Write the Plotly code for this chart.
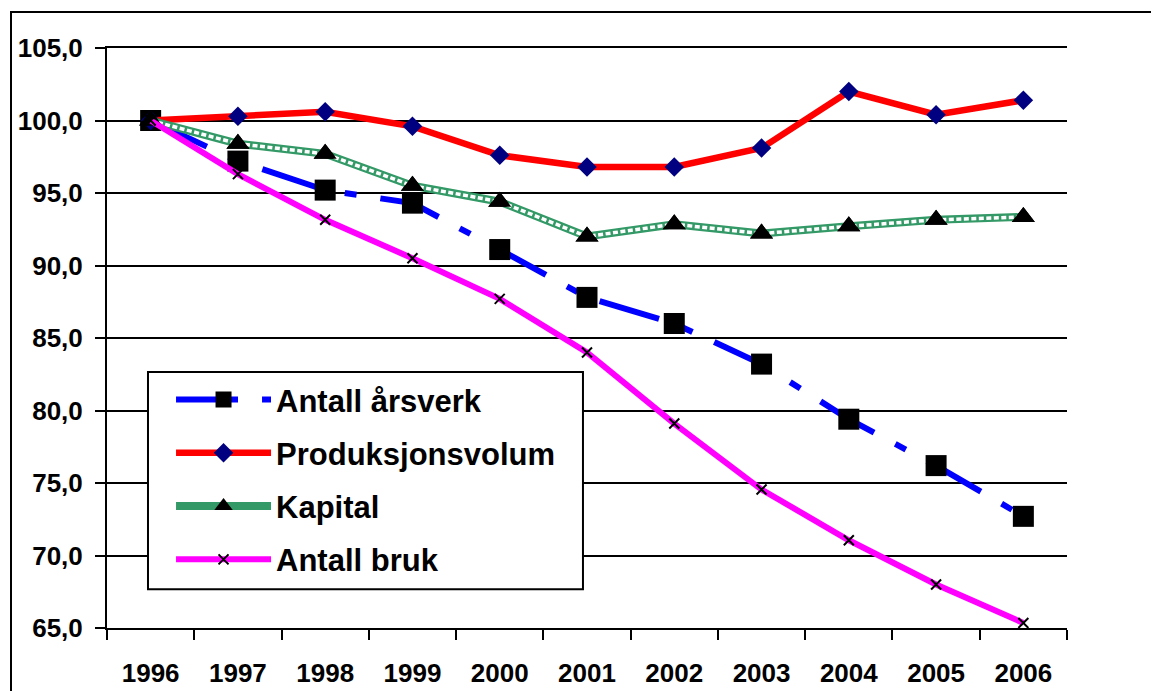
import plotly.graph_objects as go

years = ["1996", "1997", "1998", "1999", "2000", "2001", "2002", "2003", "2004", "2005", "2006"]
arsverk = [100.0, 97.2, 95.2, 94.3, 91.1, 87.8, 86.0, 83.2, 79.4, 76.2, 72.7]
produksjon = [100.0, 100.3, 100.6, 99.6, 97.6, 96.8, 96.8, 98.1, 102.0, 100.4, 101.4]
kapital = [100.0, 98.4, 97.7, 95.5, 94.4, 92.0, 92.85, 92.2, 92.7, 93.15, 93.35]
bruk = [100.0, 96.3, 93.15, 90.5, 87.7, 84.0, 79.1, 74.55, 71.05, 68.0, 65.35]

names = ["Antall årsverk", "Produksjonsvolum", "Kapital", "Antall bruk"]
yticks = [65, 70, 75, 80, 85, 90, 95, 100, 105]

FONT = "Liberation Sans, Arial, sans-serif"

fig = go.Figure()

fig.add_trace(go.Scatter(
    x=years, y=arsverk, name=names[0], mode="lines+markers", legendgroup="a",
    line=dict(color="#0000FF", width=6, dash="62px,24px,12px,24px"),
    marker=dict(symbol="square", size=21, color="black"),
))
fig.add_trace(go.Scatter(
    x=years, y=produksjon, name=names[1], mode="lines+markers", legendgroup="p",
    line=dict(color="#FF0000", width=6.5),
    marker=dict(symbol="diamond", size=15, color="#000080"),
))
fig.add_trace(go.Scatter(
    x=years, y=kapital, name=names[2], mode="lines+markers", legendgroup="k",
    line=dict(color="#339966", width=8),
    marker=dict(symbol="triangle-up", size=20, color="black"),
))
fig.add_trace(go.Scatter(
    x=years, y=kapital, mode="lines", legendgroup="k", showlegend=False,
    line=dict(color="white", width=3.5, dash="5px,2.5px"), hoverinfo="skip",
))
fig.add_trace(go.Scatter(
    x=years, y=kapital, mode="markers", legendgroup="k", showlegend=False,
    marker=dict(symbol="triangle-up", size=20, color="black"), hoverinfo="skip",
))
fig.add_trace(go.Scatter(
    x=years, y=bruk, name=names[3], mode="lines+markers", legendgroup="b",
    line=dict(color="#FF00FF", width=6),
    marker=dict(symbol="x-thin", size=10, color="black", line=dict(color="black", width=2)),
))

tickfont = dict(family=FONT, size=26, color="black", weight="bold")

fig.update_layout(
    width=1151, height=683,
    margin=dict(l=99, r=92, t=40, b=63, autoexpand=False),
    paper_bgcolor="white", plot_bgcolor="white",
    separators=", ",
    showlegend=True,
    legend=dict(
        x=0.0667, y=0.44, xanchor="left", yanchor="top",
        bgcolor="rgba(0,0,0,0)", borderwidth=0,
        font=dict(family=FONT, size=31, color="black", weight="bold"),
        itemwidth=95, tracegroupgap=10, traceorder="grouped",
    ),
    xaxis=dict(
        type="category", range=[-0.5, 10.5], tickson="boundaries", automargin=False,
        ticks="outside", ticklen=10, tickwidth=2, tickcolor="black",
        showline=True, linecolor="black", linewidth=2, mirror=True,
        showgrid=False, zeroline=False, tickfont=tickfont, ticklabelstandoff=21,
    ),
    xaxis2=dict(
        overlaying="x", anchor="y", side="bottom", range=[-0.5, 10.5], automargin=False,
        tickmode="array", tickvals=[i - 0.5 for i in range(12)],
        ticks="inside", ticklen=9, tickwidth=2, tickcolor="black",
        showticklabels=False, showgrid=False, zeroline=False, showline=False,
    ),
    yaxis=dict(
        range=[65, 105], tickmode="array", tickvals=yticks, tickformat=".1f", automargin=False,
        ticks="outside", ticklen=10, tickwidth=2, tickcolor="black",
        showline=True, linecolor="black", linewidth=2,
        showgrid=True, gridcolor="black", gridwidth=2, zeroline=False,
        tickfont=tickfont, ticklabelstandoff=7,
    ),
    yaxis2=dict(
        overlaying="y", side="right", anchor="x", range=[65, 105], automargin=False,
        tickmode="array", tickvals=yticks, tickformat=".1f",
        ticks="outside", ticklen=9, tickwidth=2, tickcolor="black",
        showline=True, linecolor="black", linewidth=2,
        showgrid=False, zeroline=False, tickfont=tickfont, ticklabelstandoff=12,
    ),
    shapes=[
        dict(
            type="rect", xref="paper", yref="paper",
            x0=-0.1, x1=1.0938, y0=-0.2, y1=1.062,
            line=dict(color="black", width=2), fillcolor="rgba(0,0,0,0)", layer="below",
        ),
        dict(
            type="rect", xref="paper", yref="paper",
            x0=0.0427, x1=0.4958, y0=0.067, y1=0.4414,
            line=dict(color="black", width=2), fillcolor="white", layer="above",
        ),
    ],
)

fig.write_html("out.html")
